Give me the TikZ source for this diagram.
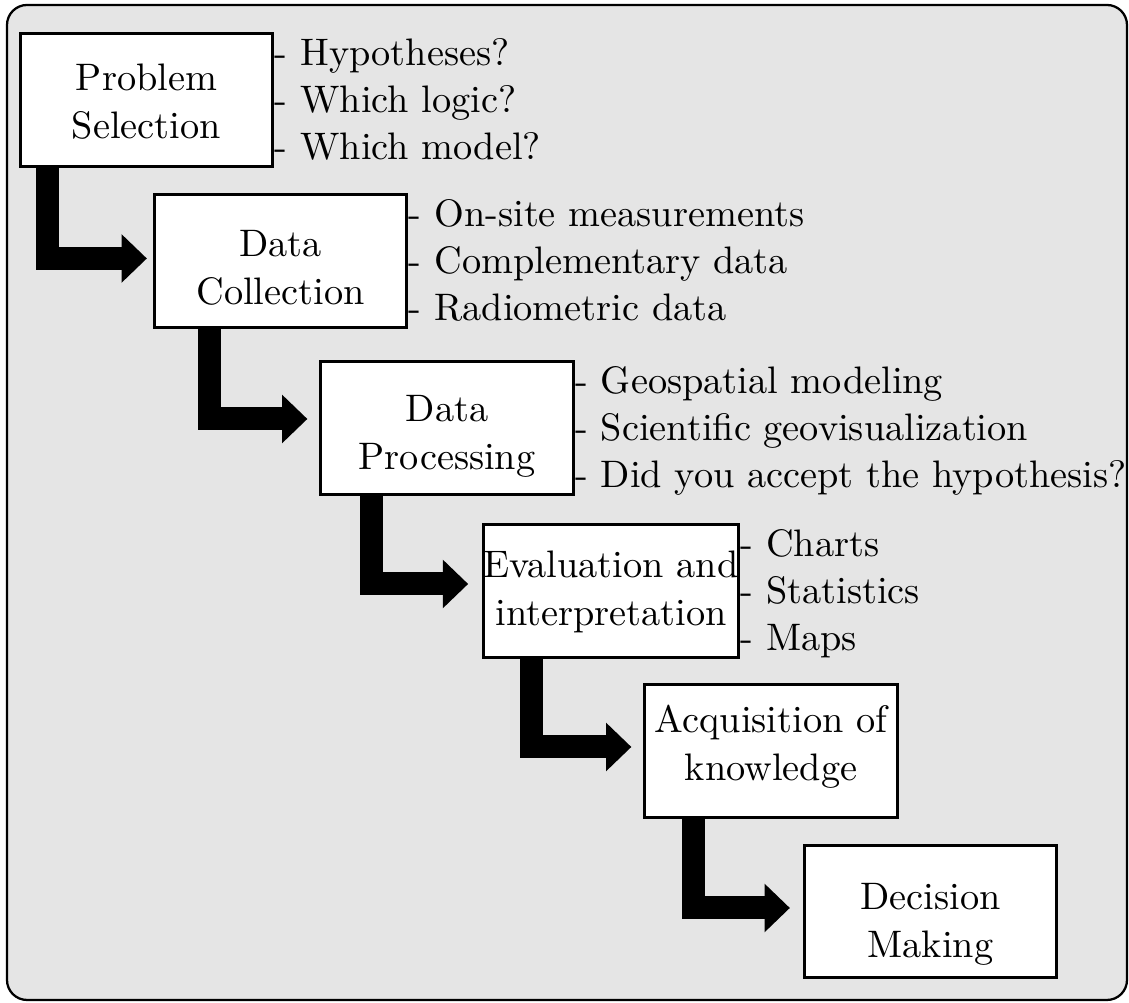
\documentclass[tikz,border=0pt]{standalone}
\usepackage{fontspec}
\usetikzlibrary{arrows.meta,calc}
\definecolor{panel}{RGB}{229,229,229}
\newcommand\twolines[2]{\begin{tabular}[t]{@{}c@{}}#1\\#2\end{tabular}}
\begin{document}
\begin{tikzpicture}[x=0.2649pt,y=-0.2649pt,
  every node/.style={font=\fontsize{10.15}{12.7}\selectfont},
  stage/.style={draw=black, fill=white, line width=0.75pt, inner sep=0pt,
    minimum width=66.9pt, minimum height=35.1pt, text height=5.30pt},
  item/.style={anchor=base west, inner sep=0pt},
  flow/.style={line width=6.09pt, line join=miter,
    -{Triangle[length=6.7pt,width=12.9pt,line width=0pt]}},
]
\useasboundingbox (0,0) rectangle (1129,1003);
\draw[fill=panel, line width=0.6pt, rounded corners=5.3pt] (7,5) rectangle (1127,1000);

\node[stage, text depth=10.07pt] (b1) at (146.5,100)   {\twolines{Problem}{Selection}};
\node[stage, text depth=7.42pt]  (b2) at (280.5,261)   {\twolines{Data}{Collection}};
\node[stage, text depth=8.48pt]  (b3) at (447,428)     {\twolines{Data}{Processing}};
\node[stage, text depth=12.19pt] (b4) at (611,591)     {\twolines{Evaluation and}{interpretation}};
\node[stage, text depth=14.83pt] (b5) at (771,751)     {\twolines{Acquisition of}{knowledge}};
\node[stage, text depth=6.36pt]  (b6) at (930.5,911.5) {\twolines{Decision}{Making}};

\node[item] (i11) at ($(b1.east)+(0,-34)$) {- Hypotheses?};
\node[item] (i12) at ($(b1.east)+(0,13)$)  {- Which logic?};
\node[item] (i13) at ($(b1.east)+(0,60)$)  {- Which model?};

\node[item] (i21) at ($(b2.east)+(0,-34)$) {- On-site measurements};
\node[item] (i22) at ($(b2.east)+(0,13)$)  {- Complementary data};
\node[item] (i23) at ($(b2.east)+(0,60)$)  {- Radiometric data};

\node[item] (i31) at ($(b3.east)+(0,-34)$) {- Geospatial modeling};
\node[item] (i32) at ($(b3.east)+(0,13)$)  {- Scientific geovisualization};
\node[item] (i33) at ($(b3.east)+(0,60)$)  {- Did you accept the hypothesis?};

\node[item] (i41) at ($(b4.east)+(0,-34)$) {- Charts};
\node[item] (i42) at ($(b4.east)+(0,13)$)  {- Statistics};
\node[item] (i43) at ($(b4.east)+(0,60)$)  {- Maps};

\draw[flow] ($(b1.south west)+(28.5,0)$) |- ($(b2.west)+(-6,-2.5)$);
\draw[flow] ($(b2.south west)+(56.5,0)$) |- ($(b3.west)+(-12,-9)$);
\draw[flow] ($(b3.south west)+(52,0)$)   |- ($(b4.west)+(-14,-7)$);
\draw[flow] ($(b4.south west)+(49,0)$)   |- ($(b5.west)+(-12,-4)$);
\draw[flow] ($(b5.south west)+(50.5,0)$) |- ($(b6.west)+(-13,-3.5)$);
\end{tikzpicture}
\end{document}
